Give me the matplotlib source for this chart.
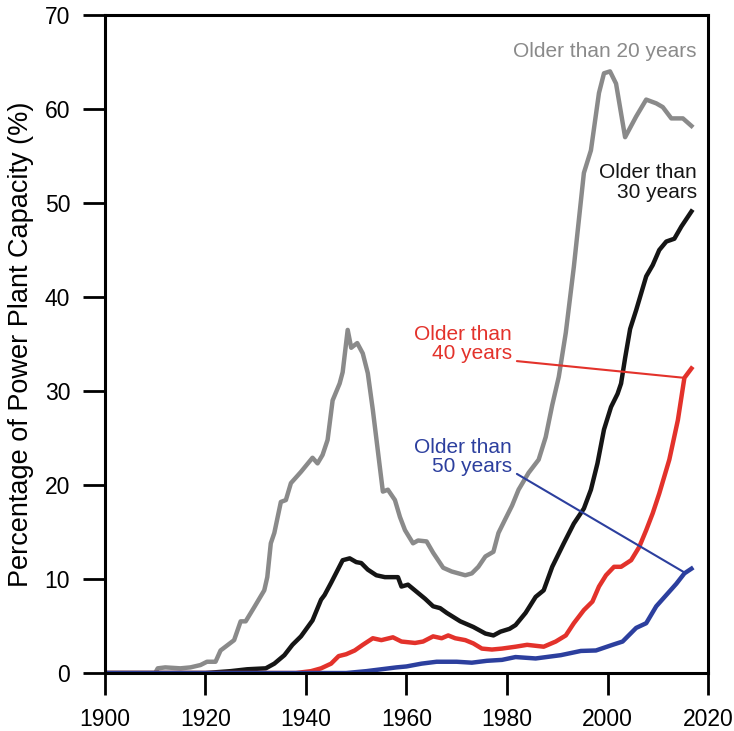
import matplotlib.pyplot as plt

plt.rcParams['font.family'] = ['Liberation Sans', 'DejaVu Sans']

# share of capacity older than 20 years
yr20 = [1900, 1910, 1910.5, 1912, 1915, 1917, 1919, 1920.3, 1922, 1923, 1925.7, 1927, 1928,
        1929.7, 1931.7, 1932.3, 1933, 1933.7, 1935, 1936, 1937, 1939, 1941.3, 1942.3, 1943.3,
        1944.3, 1945.3, 1946.7, 1947.3, 1948.3, 1949, 1950.2, 1951.3, 1952.3, 1953.3, 1954.7,
        1955.3, 1956.3, 1957.7, 1958.7, 1959.7, 1961.3, 1962.3, 1964, 1965.3, 1967.3, 1969,
        1971.7, 1973, 1974.3, 1975.7, 1977.3, 1978.3, 1979.5, 1981, 1982.3, 1984.3, 1986.3,
        1987.7, 1989, 1990.3, 1991.7, 1993.3, 1995.3, 1996.7, 1998.3, 1999.3, 2000.5, 2001.7,
        2003.5, 2005.7, 2007.7, 2009.7, 2011, 2012.7, 2015, 2016.7]
pct20 = [0, 0, 0.5, 0.6, 0.5, 0.6, 0.85, 1.2, 1.2, 2.4, 3.5, 5.5, 5.5,
         7.0, 8.8, 10.2, 13.8, 14.9, 18.2, 18.4, 20.2, 21.4, 22.9, 22.3, 23.2,
         24.8, 29.0, 30.8, 32.0, 36.5, 34.6, 35.1, 34.0, 31.9, 28.0, 21.9,
         19.3, 19.5, 18.4, 16.6, 15.2, 13.8, 14.1, 14.0, 12.8, 11.2, 10.8,
         10.4, 10.6, 11.3, 12.4, 12.9, 14.9, 16.2, 17.8, 19.5, 21.3, 22.7,
         25.1, 28.5, 31.5, 36.2, 43.2, 53.2, 55.6, 61.7, 63.8, 64.0, 62.7,
         57.0, 59.2, 61.0, 60.6, 60.2, 59.0, 59.0, 58.2]

# older than 30 years
yr30 = [1900, 1920, 1925, 1928.3, 1932, 1933.7, 1935.7, 1937.3, 1939, 1941.3, 1943, 1943.7,
        1945, 1947.3, 1948.7, 1950, 1951, 1952.3, 1954, 1955.7, 1958.3, 1959, 1960.3, 1962,
        1963.7, 1965.3, 1966.7, 1968, 1970.7, 1973.3, 1975.7, 1977.3, 1978.7, 1980.5, 1981.7,
        1983.7, 1985.7, 1987.3, 1989, 1991.3, 1993.3, 1995.3, 1996.7, 1998, 1999.3, 2000.7,
        2002, 2002.7, 2003.5, 2004.5, 2005.7, 2007.7, 2009, 2010.3, 2011.7, 2013.3, 2014.7,
        2016.7]
pct30 = [0, 0, 0.2, 0.4, 0.5, 1.0, 1.9, 3.0, 3.9, 5.6, 7.8, 8.3,
         9.6, 12.0, 12.2, 11.8, 11.7, 11.0, 10.4, 10.2, 10.2, 9.2, 9.4, 8.65,
         7.9, 7.1, 6.9, 6.4, 5.5, 4.9, 4.2, 4.0, 4.4, 4.7, 5.1,
         6.4, 8.1, 8.8, 11.3, 13.8, 15.9, 17.5, 19.5, 22.3, 25.9, 28.3,
         29.7, 30.8, 33.5, 36.6, 38.6, 42.2, 43.4, 45.0, 45.9, 46.2, 47.5,
         49.1]

# older than 40 years
yr40 = [1900, 1938, 1941, 1943, 1945, 1946.5, 1948, 1949.7, 1951.3, 1953.3, 1955, 1957.3,
        1959, 1961.7, 1963.3, 1965.3, 1967, 1968.3, 1969.7, 1971.7, 1973.3, 1975, 1977, 1979,
        1981.7, 1984, 1987.3, 1989.7, 1991.7, 1993.3, 1995.3, 1997, 1998.3, 1999.7, 2001.3,
        2002.7, 2004.7, 2006.3, 2007.7, 2009, 2010.3, 2012.3, 2014, 2015.3, 2016.7]
pct40 = [0, 0, 0.2, 0.5, 1.0, 1.8, 2.0, 2.4, 3.0, 3.7, 3.5, 3.8,
         3.35, 3.2, 3.35, 3.9, 3.7, 4.0, 3.7, 3.5, 3.15, 2.6, 2.5, 2.6,
         2.8, 3.0, 2.8, 3.35, 4.0, 5.3, 6.7, 7.6, 9.2, 10.4, 11.3,
         11.3, 12.0, 13.4, 15.2, 17.0, 19.1, 22.7, 26.9, 31.4, 32.4]

# older than 50 years
yr50 = [1900, 1948, 1952, 1955, 1958, 1960, 1963, 1966, 1970, 1973, 1976, 1979, 1981.7,
        1985.7, 1990.7, 1994.7, 1997.7, 2001, 2003, 2005.7, 2007.7, 2009.7, 2011.7, 2013.7,
        2015.3, 2016.7]
pct50 = [0, 0, 0.2, 0.4, 0.6, 0.7, 1.0, 1.2, 1.2, 1.1, 1.3, 1.4, 1.7,
         1.55, 1.9, 2.35, 2.4, 3.0, 3.35, 4.8, 5.3, 7.1, 8.3, 9.5,
         10.6, 11.1]

grey = '#8a8a8a'
black = '#151515'
red = '#e3322b'
blue = '#2c3f9e'

fig = plt.figure(figsize=(7.34, 7.31), dpi=100)
ax = fig.add_axes([0.143, 0.0793, 0.8216, 0.9002])

ax.plot(yr20, pct20, color=grey, lw=3.2, solid_joinstyle='round')
ax.plot(yr30, pct30, color=black, lw=3.2, solid_joinstyle='round')
ax.plot(yr40, pct40, color=red, lw=3.2, solid_joinstyle='round')
ax.plot(yr50, pct50, color=blue, lw=3.2, solid_joinstyle='round')

ax.set_xlim(1900, 2020)
ax.set_ylim(0, 70)
ax.set_xticks(range(1900, 2021, 20))
ax.set_yticks(range(0, 71, 10))
ax.tick_params(direction='out', length=16, width=2, labelsize=16.5, pad=9)
for s in ax.spines.values():
    s.set_linewidth(2.2)
ax.set_ylabel('Percentage of Power Plant Capacity (%)', fontsize=19.5, labelpad=8)

ax.text(2017.8, 66.1, 'Older than 20 years', color=grey, fontsize=15, ha='right', va='center')
ax.text(2017.8, 52.2, 'Older than\n30 years', color=black, fontsize=15, ha='right',
        va='center', linespacing=1.05)
ax.annotate('Older than\n40 years', xy=(2015.3, 31.4), xytext=(1981, 35.0), color=red,
            fontsize=15, ha='right', va='center', linespacing=1.0,
            arrowprops=dict(arrowstyle='-', color=red, lw=1.5, shrinkA=0, shrinkB=0,
                            relpos=(1.05, 0.05)))
ax.annotate('Older than\n50 years', xy=(2015.3, 10.7), xytext=(1981, 23.0), color=blue,
            fontsize=15, ha='right', va='center', linespacing=1.0,
            arrowprops=dict(arrowstyle='-', color=blue, lw=1.5, shrinkA=0, shrinkB=0,
                            relpos=(1.05, 0.05)))

fig.savefig('out.png', dpi=100)
